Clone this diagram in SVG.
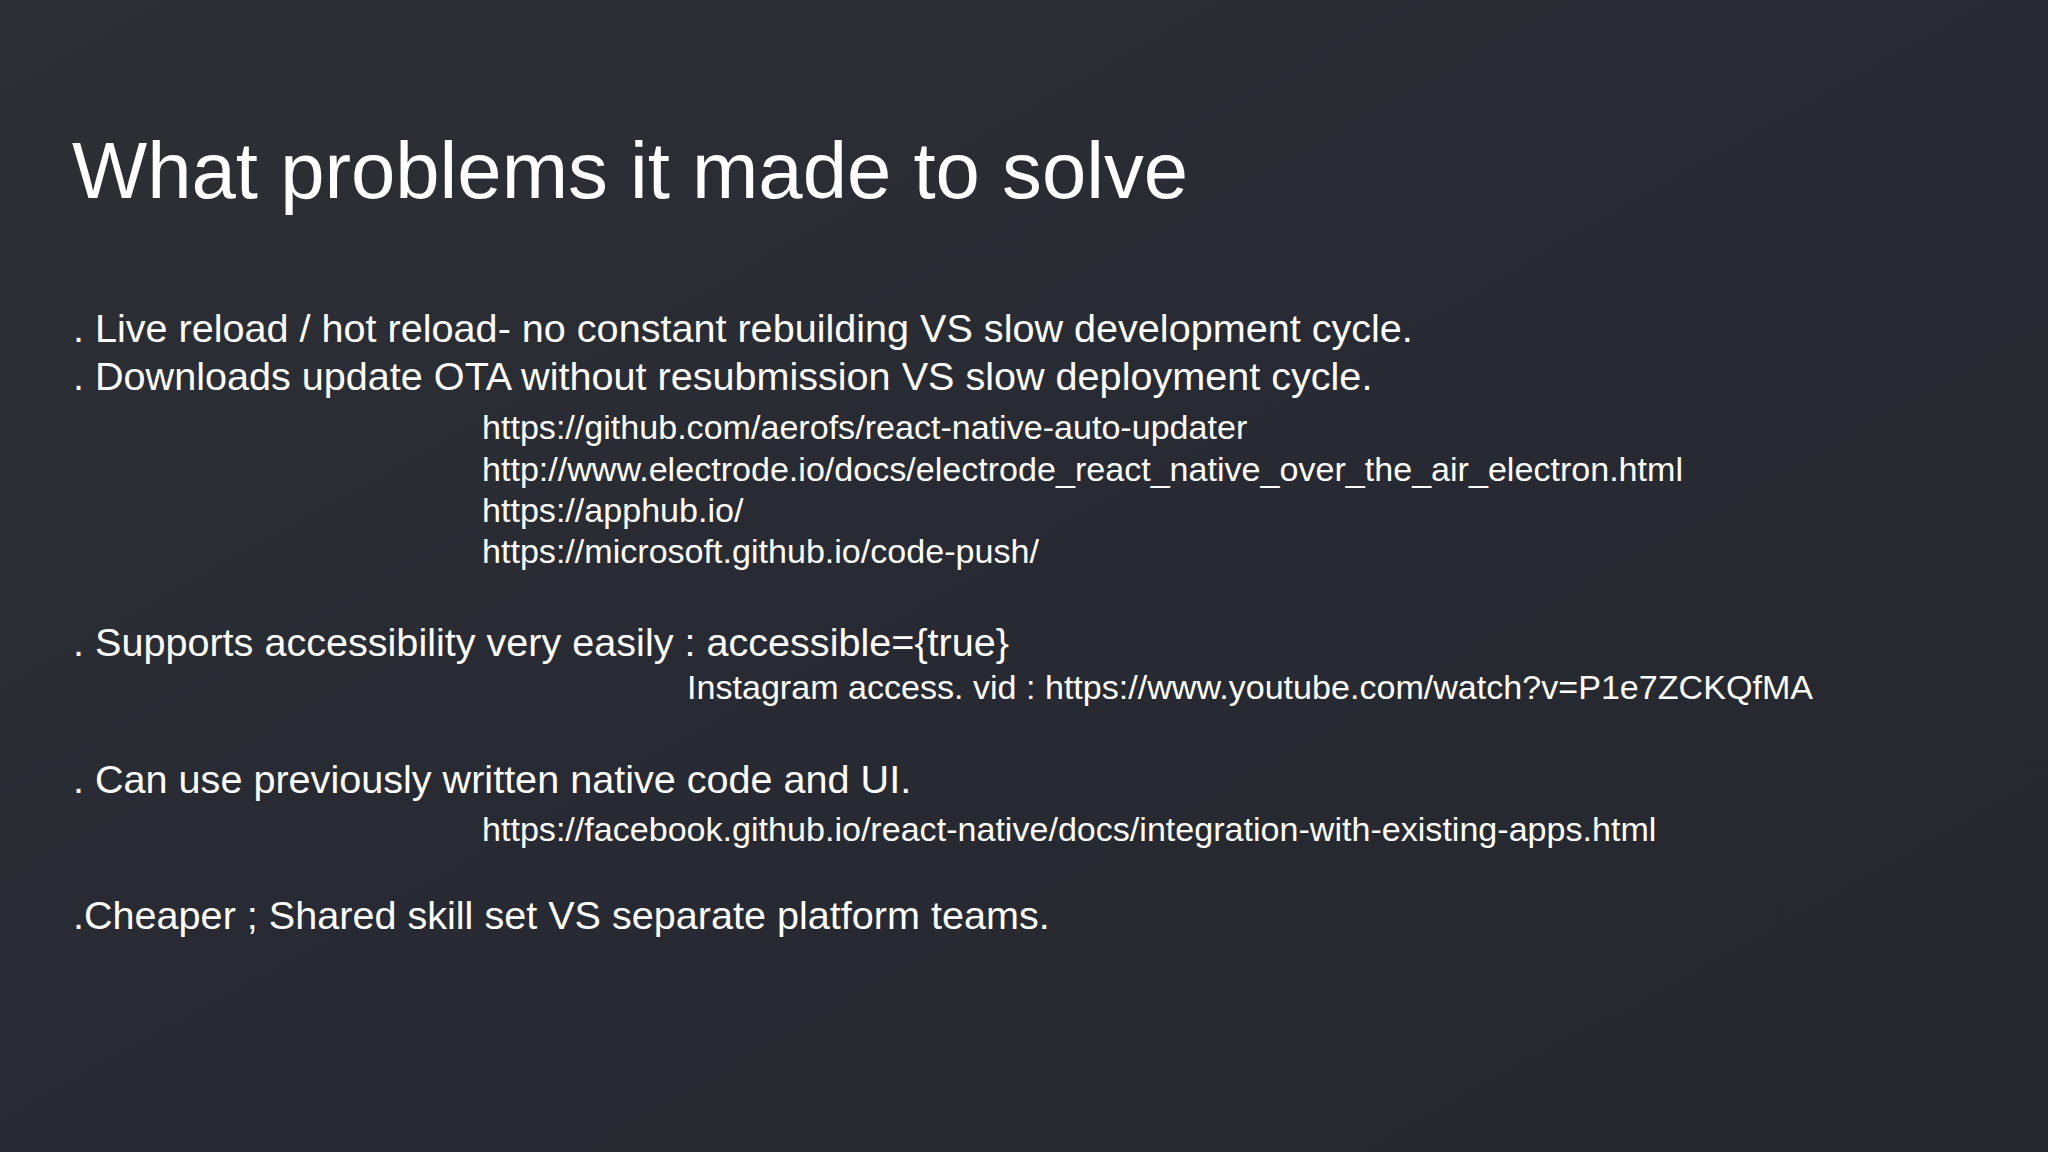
<svg xmlns="http://www.w3.org/2000/svg" width="2048" height="1152" viewBox="0 0 2048 1152">
<defs>
<linearGradient id="bg" x1="0" y1="0" x2="1" y2="1">
<stop offset="0" stop-color="#2c3034"/>
<stop offset="0.5" stop-color="#282a33"/>
<stop offset="1" stop-color="#25282d"/>
</linearGradient>
<style>
text{font-family:"Liberation Sans",Arial,sans-serif;fill:#ffffff}
.t{font-size:79.7px}
.b{font-size:39.6px}
.l{font-size:34.1px}
</style>
</defs>
<rect width="2048" height="1152" fill="url(#bg)"/>
<text class="t" x="72" y="198">What problems it made to solve</text>
<g id="body">
<text class="b" x="73" y="342">. Live reload / hot reload- no constant rebuilding VS slow development cycle.</text>
<text class="b" x="73" y="390">. Downloads update OTA without resubmission VS slow deployment cycle.</text>
<text class="l" x="482" y="439">https://github.com/aerofs/react-native-auto-updater</text>
<text class="l" x="482" y="481">http://www.electrode.io/docs/electrode_react_native_over_the_air_electron.html</text>
<text class="l" x="482" y="522">https://apphub.io/</text>
<text class="l" x="482" y="563">https://microsoft.github.io/code-push/</text>
<text class="b" x="73" y="656">. Supports accessibility very easily : accessible={true}</text>
<text class="l" x="687" y="699">Instagram access. vid : https://www.youtube.com/watch?v=P1e7ZCKQfMA</text>
<text class="b" x="73" y="793">. Can use previously written native code and UI.</text>
<text class="l" x="482" y="841">https://facebook.github.io/react-native/docs/integration-with-existing-apps.html</text>
<text class="b" x="73" y="929">.Cheaper ; Shared skill set VS separate platform teams.</text>
</g>
</svg>
